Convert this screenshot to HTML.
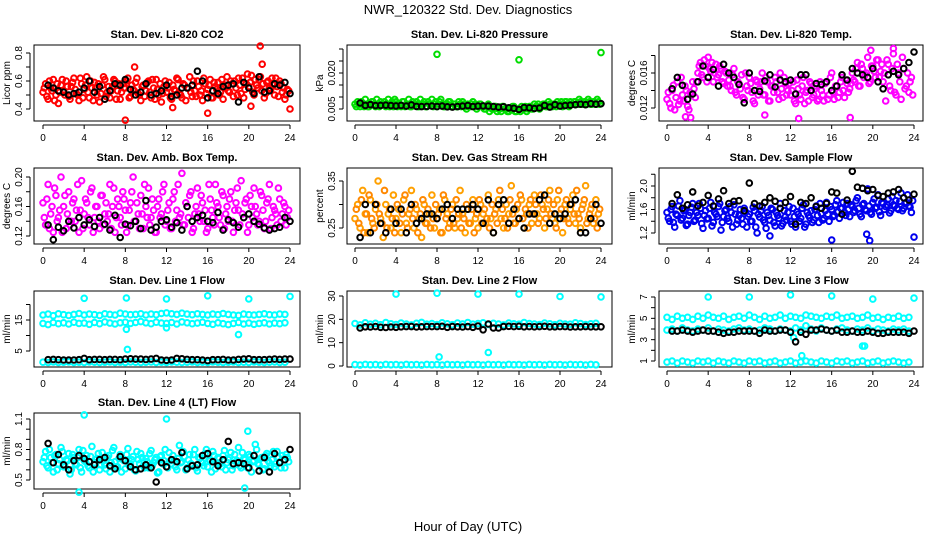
<!DOCTYPE html>
<html><head><meta charset="utf-8"><style>
html,body{margin:0;padding:0;background:#fff;}
svg{display:block;font-family:"Liberation Sans",sans-serif;}
</style></head><body>
<svg id="chart" width="936" height="540" viewBox="0 0 936 540">
<text x="468" y="14" text-anchor="middle" font-size="13">NWR_120322 Std. Dev. Diagnostics</text>
<text x="468" y="531" text-anchor="middle" font-size="13">Hour of Day (UTC)</text>
</svg>
<script>
const hourTicks = [0,4,8,12,16,20,24];
const co2Main = [0.52,0.58,0.47,0.55,0.61,0.50,0.44,0.57,0.53,0.60,0.49,0.56,0.62,0.51,0.46,0.58,0.54,0.63,0.48,0.55,0.59,0.50,0.45,0.57,0.61,0.52,0.48,0.56,0.60,0.53,0.47,0.58,0.55,0.62,0.49,0.54,0.59,0.51,0.46,0.57,0.53,0.60,0.48,0.55,0.61,0.50,0.45,0.56,0.52,0.59,0.47,0.54,0.62,0.51,0.48,0.57,0.55,0.63,0.49,0.53,0.60,0.50,0.46,0.58,0.54,0.61,0.48,0.56,0.59,0.52,0.47,0.57,0.53,0.60,0.49,0.55,0.62,0.51,0.48,0.58,0.56,0.64,0.50,0.57,0.61,0.53,0.48,0.59,0.55,0.62,0.50,0.56,0.60,0.52,0.47,0.54];
const co2Main2 = [0.55,0.49,0.60,0.53,0.46,0.58,0.52,0.61,0.50,0.56,0.47,0.59,0.54,0.50,0.62,0.48,0.57,0.52,0.60,0.46,0.55,0.58,0.51,0.63,0.49,0.56,0.53,0.61,0.47,0.58,0.52,0.55,0.60,0.48,0.57,0.53,0.62,0.50,0.56,0.49,0.59,0.52,0.61,0.47,0.54,0.58,0.51,0.60,0.55,0.48,0.57,0.53,0.61,0.50,0.58,0.46,0.55,0.52,0.60,0.49,0.56,0.53,0.62,0.51,0.57,0.48,0.59,0.54,0.50,0.61,0.55,0.63,0.52,0.58,0.60,0.50,0.57,0.62,0.54,0.65,0.59,0.52,0.61,0.55,0.63,0.58,0.51,0.60,0.54,0.57,0.62,0.49,0.58,0.55,0.50,0.53];
const co2Black = [0.57,0.55,0.53,0.52,0.50,0.51,0.52,0.55,0.60,0.52,0.56,0.47,0.53,0.58,0.57,0.61,0.54,0.50,0.52,0.58,0.50,0.51,0.53,0.57,0.49,0.50,0.55,0.55,0.57,0.67,0.60,0.48,0.53,0.51,0.56,0.57,0.58,0.45,0.59,0.55,0.51,0.63,0.52,0.53,0.58,0.57,0.59,0.51];
const co2OutX = [8,8.9,16,21.1,21.3,24,20.2,12.6];
const co2OutY = [0.32,0.70,0.37,0.85,0.72,0.40,0.42,0.41];

const presMain = [0.007,0.008,0.006,0.007,0.009,0.006,0.007,0.008,0.006,0.007,0.008,0.007,0.006,0.009,0.007,0.006,0.008,0.007,0.006,0.008,0.007,0.009,0.006,0.007,0.008,0.006,0.007,0.008,0.006,0.007,0.009,0.007,0.006,0.008,0.007,0.006,0.007,0.008,0.006,0.007,0.006,0.007,0.008,0.006,0.007,0.006,0.008,0.007,0.006,0.007,0.006,0.005,0.007,0.006,0.005,0.006,0.005,0.004,0.006,0.005,0.004,0.005,0.006,0.004,0.005,0.006,0.005,0.004,0.006,0.005,0.007,0.006,0.005,0.006,0.007,0.006,0.007,0.006,0.007,0.008,0.007,0.006,0.008,0.007,0.008,0.007,0.008,0.007,0.008,0.007,0.008,0.009,0.007,0.008,0.007,0.008];
const presMain2 = [0.006,0.007,0.008,0.006,0.007,0.006,0.008,0.007,0.009,0.006,0.007,0.008,0.007,0.006,0.008,0.009,0.006,0.007,0.008,0.006,0.007,0.006,0.008,0.007,0.006,0.009,0.007,0.006,0.008,0.007,0.006,0.008,0.007,0.009,0.006,0.007,0.008,0.006,0.007,0.006,0.008,0.006,0.007,0.005,0.006,0.007,0.006,0.005,0.007,0.006,0.005,0.006,0.004,0.005,0.006,0.004,0.005,0.006,0.005,0.004,0.005,0.006,0.004,0.005,0.004,0.005,0.006,0.005,0.006,0.005,0.006,0.007,0.006,0.007,0.006,0.008,0.007,0.007,0.006,0.007,0.008,0.007,0.008,0.006,0.007,0.008,0.007,0.009,0.007,0.008,0.007,0.008,0.007,0.008,0.009,0.007];
const presBlack = [0.0075,0.0065,0.0068,0.0064,0.0065,0.0066,0.0064,0.0063,0.0065,0.0062,0.0067,0.0061,0.0060,0.0061,0.0062,0.0060,0.0062,0.0059,0.0058,0.0060,0.0062,0.0064,0.0060,0.0062,0.0063,0.0062,0.0060,0.0058,0.0059,0.0055,0.0053,0.0048,0.0056,0.0055,0.0052,0.0054,0.0065,0.0058,0.0068,0.0062,0.0064,0.0066,0.0068,0.0070,0.0068,0.0072,0.0070,0.0072];
const presOutX = [8,16,24];
const presOutY = [0.0278,0.0255,0.0285];

const tempMain = [0.0130,0.0125,0.0140,0.0118,0.0150,0.0128,0.0135,0.0145,0.0122,0.0138,0.0150,0.0132,0.0160,0.0172,0.0155,0.0168,0.0178,0.0162,0.0150,0.0170,0.0158,0.0165,0.0148,0.0160,0.0152,0.0140,0.0165,0.0135,0.0148,0.0158,0.0130,0.0145,0.0155,0.0138,0.0125,0.0150,0.0142,0.0160,0.0135,0.0150,0.0128,0.0145,0.0155,0.0138,0.0160,0.0132,0.0148,0.0140,0.0135,0.0150,0.0125,0.0142,0.0130,0.0155,0.0138,0.0128,0.0148,0.0135,0.0145,0.0130,0.0140,0.0128,0.0150,0.0135,0.0160,0.0130,0.0145,0.0138,0.0155,0.0132,0.0148,0.0142,0.0160,0.0150,0.0172,0.0145,0.0165,0.0158,0.0178,0.0150,0.0168,0.0155,0.0175,0.0162,0.0150,0.0128,0.0170,0.0140,0.0182,0.0135,0.0160,0.0130,0.0165,0.0145,0.0138,0.0155];
const tempMain2 = [0.0138,0.0120,0.0146,0.0132,0.0124,0.0155,0.0128,0.0140,0.0118,0.0135,0.0142,0.0150,0.0168,0.0158,0.0175,0.0150,0.0165,0.0172,0.0160,0.0155,0.0168,0.0150,0.0162,0.0145,0.0145,0.0158,0.0138,0.0150,0.0142,0.0132,0.0160,0.0140,0.0148,0.0128,0.0152,0.0135,0.0150,0.0135,0.0155,0.0128,0.0145,0.0138,0.0150,0.0130,0.0142,0.0155,0.0135,0.0148,0.0140,0.0128,0.0152,0.0135,0.0145,0.0125,0.0140,0.0150,0.0132,0.0142,0.0128,0.0150,0.0135,0.0148,0.0130,0.0155,0.0138,0.0145,0.0132,0.0150,0.0140,0.0152,0.0138,0.0148,0.0152,0.0165,0.0145,0.0170,0.0155,0.0160,0.0148,0.0168,0.0162,0.0175,0.0155,0.0170,0.0160,0.0175,0.0145,0.0165,0.0138,0.0170,0.0150,0.0178,0.0142,0.0160,0.0150,0.0135];
const tempBlack = [0.0142,0.0155,0.0146,0.0130,0.0136,0.0150,0.0168,0.0155,0.0164,0.0145,0.0170,0.0160,0.0155,0.0147,0.0126,0.0160,0.0140,0.0139,0.0151,0.0158,0.0144,0.0152,0.0150,0.0152,0.0136,0.0158,0.0158,0.0140,0.0148,0.0147,0.0150,0.0140,0.0145,0.0158,0.0152,0.0165,0.0160,0.0158,0.0155,0.0165,0.0150,0.0142,0.0158,0.0162,0.0158,0.0165,0.0172,0.0184];
const tempOutX = [1.8,2.3,9.5,12.8,17.8,19.8,22.0];
const tempOutY = [0.0110,0.0109,0.0112,0.0108,0.0109,0.0186,0.0188];

const ambMain = [0.165,0.135,0.19,0.15,0.125,0.175,0.145,0.20,0.16,0.13,0.18,0.14,0.17,0.155,0.125,0.195,0.15,0.165,0.135,0.185,0.145,0.16,0.13,0.175,0.15,0.14,0.19,0.16,0.125,0.17,0.145,0.18,0.155,0.135,0.165,0.20,0.14,0.15,0.175,0.13,0.16,0.185,0.145,0.155,0.125,0.17,0.15,0.19,0.14,0.165,0.13,0.18,0.155,0.145,0.205,0.135,0.16,0.175,0.125,0.15,0.185,0.14,0.165,0.155,0.13,0.17,0.145,0.19,0.16,0.135,0.175,0.15,0.14,0.18,0.125,0.165,0.155,0.195,0.145,0.17,0.135,0.16,0.185,0.15,0.14,0.175,0.13,0.165,0.19,0.145,0.155,0.135,0.17,0.15,0.16,0.145];
const ambMain2 = [0.145,0.17,0.13,0.16,0.185,0.14,0.155,0.125,0.175,0.15,0.135,0.165,0.14,0.19,0.155,0.13,0.17,0.145,0.18,0.125,0.16,0.14,0.175,0.135,0.165,0.15,0.13,0.185,0.145,0.16,0.135,0.17,0.125,0.155,0.18,0.14,0.165,0.13,0.15,0.19,0.145,0.135,0.17,0.125,0.16,0.145,0.18,0.135,0.155,0.13,0.17,0.14,0.19,0.15,0.135,0.165,0.145,0.18,0.13,0.16,0.15,0.175,0.14,0.125,0.19,0.155,0.135,0.165,0.145,0.18,0.13,0.16,0.17,0.14,0.155,0.185,0.135,0.15,0.165,0.125,0.175,0.145,0.16,0.135,0.18,0.155,0.14,0.17,0.13,0.16,0.15,0.185,0.14,0.165,0.135,0.155];
const ambBlack = [0.135,0.115,0.132,0.127,0.14,0.131,0.145,0.135,0.142,0.133,0.145,0.136,0.128,0.148,0.118,0.136,0.134,0.14,0.130,0.168,0.128,0.132,0.140,0.142,0.132,0.138,0.128,0.16,0.14,0.145,0.148,0.140,0.138,0.152,0.128,0.142,0.138,0.132,0.145,0.150,0.140,0.136,0.131,0.128,0.130,0.132,0.145,0.140];

const rhMain = [0.27,0.30,0.25,0.33,0.28,0.24,0.31,0.26,0.29,0.35,0.27,0.23,0.30,0.28,0.25,0.32,0.27,0.29,0.24,0.31,0.26,0.28,0.33,0.25,0.29,0.27,0.23,0.30,0.26,0.28,0.32,0.25,0.27,0.29,0.24,0.31,0.28,0.26,0.30,0.25,0.27,0.33,0.28,0.24,0.29,0.26,0.31,0.27,0.25,0.30,0.28,0.26,0.32,0.27,0.24,0.29,0.31,0.27,0.25,0.30,0.28,0.34,0.26,0.29,0.27,0.31,0.25,0.28,0.30,0.26,0.32,0.28,0.27,0.30,0.25,0.29,0.33,0.27,0.26,0.31,0.28,0.24,0.30,0.27,0.29,0.32,0.26,0.28,0.25,0.30,0.34,0.27,0.29,0.26,0.31,0.28];
const rhMain2 = [0.29,0.26,0.31,0.24,0.28,0.32,0.27,0.25,0.30,0.28,0.26,0.33,0.25,0.29,0.27,0.24,0.30,0.26,0.28,0.32,0.25,0.29,0.27,0.30,0.24,0.28,0.31,0.26,0.29,0.25,0.27,0.30,0.28,0.24,0.32,0.27,0.25,0.29,0.26,0.31,0.28,0.25,0.27,0.30,0.26,0.29,0.24,0.28,0.31,0.26,0.29,0.27,0.25,0.30,0.28,0.26,0.33,0.29,0.27,0.25,0.31,0.28,0.26,0.30,0.32,0.27,0.29,0.25,0.31,0.28,0.30,0.26,0.32,0.29,0.27,0.31,0.28,0.30,0.25,0.33,0.29,0.27,0.31,0.26,0.30,0.28,0.33,0.27,0.29,0.31,0.26,0.28,0.30,0.27,0.25,0.29];
const rhBlack = [0.23,0.30,0.24,0.30,0.26,0.24,0.29,0.26,0.29,0.24,0.30,0.26,0.27,0.28,0.28,0.27,0.29,0.30,0.27,0.29,0.29,0.29,0.30,0.29,0.26,0.31,0.24,0.30,0.31,0.26,0.29,0.27,0.25,0.28,0.28,0.31,0.32,0.26,0.28,0.27,0.28,0.30,0.31,0.24,0.24,0.27,0.30,0.26];

const flowMain = [1.55,1.40,1.65,1.30,1.50,1.75,1.45,1.60,1.35,1.55,1.70,1.42,1.50,1.62,1.28,1.58,1.45,1.72,1.38,1.52,1.65,1.25,1.48,1.60,1.40,1.55,1.68,1.35,1.50,1.45,1.62,1.30,1.52,1.40,1.58,1.20,1.47,1.65,1.38,1.55,1.42,1.60,1.32,1.50,1.70,1.36,1.48,1.55,1.40,1.62,1.30,1.52,1.45,1.68,1.35,1.50,1.58,1.42,1.66,1.38,1.53,1.45,1.72,1.40,1.60,1.50,1.75,1.45,1.62,1.55,1.70,1.48,1.65,1.58,1.80,1.52,1.68,1.60,1.95,1.55,1.72,1.62,1.85,1.50,1.70,1.65,1.78,1.58,1.68,1.75,1.60,1.88,1.62,1.72,1.66,1.55];
const flowMain2 = [1.45,1.60,1.38,1.52,1.66,1.42,1.58,1.33,1.50,1.64,1.40,1.55,1.70,1.36,1.50,1.44,1.62,1.32,1.55,1.48,1.70,1.38,1.58,1.45,1.65,1.30,1.52,1.42,1.60,1.35,1.56,1.48,1.40,1.64,1.30,1.52,1.58,1.42,1.28,1.50,1.62,1.38,1.55,1.45,1.32,1.58,1.42,1.65,1.35,1.48,1.56,1.40,1.62,1.30,1.55,1.46,1.38,1.60,1.50,1.70,1.42,1.58,1.52,1.65,1.48,1.68,1.56,1.62,1.72,1.50,1.60,1.68,1.55,1.75,1.62,1.48,1.70,1.58,1.66,1.52,1.78,1.64,1.56,1.72,1.60,1.68,1.54,1.82,1.66,1.62,1.74,1.58,1.70,1.85,1.64,1.75];
const flowBlack = [1.70,1.85,1.62,1.68,1.90,1.66,1.72,1.84,1.66,1.78,1.92,1.70,1.74,1.75,1.58,2.05,1.70,1.66,1.72,1.80,1.74,1.62,1.72,1.82,1.35,1.72,1.70,1.80,1.65,1.62,1.70,1.90,1.88,1.52,1.76,2.25,1.98,1.96,1.92,1.94,1.84,1.82,1.88,1.90,1.94,1.80,1.76,1.86];
const flowOutX = [10.0,16.0,19.4,19.7,24.0];
const flowOutY = [1.15,1.08,1.18,1.07,1.13];

const l1Upper = [16.6,16.9,16.4,17.0,16.7,16.5,16.8,17.1,16.6,16.9,16.7,16.5,17.0,16.8,16.6,17.2,16.9,16.7,16.8,17.0,16.6,16.9,16.7,17.1,17.3,17.0,16.8,17.2,16.9,16.7,17.0,16.8,16.6,16.9,16.7,17.1,16.8,16.6,16.5,16.9,16.7,16.6,16.8,17.0,16.7,16.6,16.9,16.8];
const l1Lower = [13.9,13.5,14.2,13.8,14.1,13.7,14.3,13.9,14.0,13.6,14.2,13.8,14.4,14.0,13.7,14.1,14.3,13.9,14.2,14.5,14.1,13.8,14.3,14.0,13.9,14.2,13.7,14.4,14.1,13.8,14.0,14.3,13.9,13.6,14.1,13.8,13.5,13.9,14.2,13.7,14.0,13.6,13.9,14.1,13.7,14.0,13.8,14.1];
const l1Bottom = [1.4,1.3,1.5,1.3,1.4,1.5,1.3,1.4,1.3,1.5,1.4,1.3,1.4,1.5,1.3,1.4,1.3,1.5,1.4,1.3,1.4,1.5,1.3,1.4,1.3,1.5,1.4,1.3,1.4,1.5,1.3,1.4,1.3,1.5,1.4,1.3,1.4,1.5,1.3,1.4,1.3,1.5,1.4,1.3,1.4,1.5,1.3,1.4];
const l1Black = [2.2,2.3,2.2,2.1,2.1,2.1,2.2,2.6,2.2,2.3,2.3,2.2,2.3,2.3,2.2,2.4,2.5,2.4,2.4,2.3,2.4,2.6,2.1,2.0,2.1,2.6,2.5,2.3,2.2,2.2,2.1,1.9,2.2,2.2,2.3,2.1,2.1,2.3,2.4,2.5,2.2,2.2,2.2,2.3,2.4,2.3,2.4,2.4];
const l1OutX = [4,8.1,12,16,20,24,8.2,8.1,12.0,19.0];
const l1OutY = [22.0,22.1,21.8,22.8,21.8,22.6,5.5,12.0,12.5,10.3];

const l2Band = [18.2,17.6,18.5,17.9,18.3,17.7,18.6,18.1,17.8,18.4,18.0,17.6,18.3,18.7,17.9,18.2,17.8,18.5,18.1,17.7,18.4,18.0,18.6,17.9,18.2,18.5,17.8,18.3,18.0,17.6,18.4,18.1,17.9,18.6,18.2,18.0,17.8,18.4,18.1,17.7,18.3,18.0,17.9,18.5,18.2,17.8,18.1,18.3];
const l2Bottom = [0.6,0.4,0.7,0.5,0.6,0.4,0.7,0.5,0.6,0.4,0.7,0.5,0.6,0.4,0.7,0.5,0.6,0.4,0.7,0.5,0.6,0.4,0.7,0.5,0.6,0.4,0.7,0.5,0.6,0.4,0.7,0.5,0.6,0.4,0.7,0.5,0.6,0.4,0.7,0.5,0.6,0.4,0.7,0.5,0.6,0.4,0.7,0.5];
const l2Black = [16.3,16.8,16.7,16.9,16.6,16.5,16.7,16.6,16.8,16.9,16.9,16.7,16.8,16.9,16.9,16.9,17.0,16.6,16.9,16.8,16.7,16.9,16.6,17.1,15.5,18.0,16.3,16.3,16.9,17.0,16.9,17.0,16.8,16.9,16.8,16.9,17.0,16.8,16.8,16.9,16.9,16.7,16.8,16.8,16.9,16.8,16.8,16.8];
const l2OutX = [4,8,12,16,20,24,8.2,13.0];
const l2OutY = [30.8,31.2,30.8,30.8,29.8,29.6,3.9,5.8];

const l3Upper = [5.1,4.9,5.2,5.0,5.1,4.9,5.2,5.0,5.3,5.1,5.0,5.2,4.9,5.1,5.2,5.0,5.3,5.1,4.9,5.2,5.0,5.1,5.3,5.0,5.2,5.1,5.0,5.3,5.2,5.1,5.0,5.2,5.1,5.3,5.0,5.1,5.2,5.0,5.1,5.3,5.0,5.1,4.9,5.1,5.0,5.2,5.0,5.1];
const l3Mid = [3.9,4.0,3.8,4.1,3.9,3.8,4.0,3.9,4.1,3.8,4.0,3.9,3.8,4.0,4.1,3.9,4.0,3.8,3.9,4.1,4.0,3.8,4.0,3.9,3.8,4.1,3.9,4.3,4.0,3.8,4.1,3.9,3.8,4.0,4.1,3.9,3.8,4.0,3.9,4.1,3.8,4.0,3.9,3.8,4.0,3.9,4.0,3.8];
const l3Bottom = [0.9,1.0,0.8,1.0,0.9,0.8,1.0,0.9,1.0,0.8,1.0,0.9,0.8,1.0,0.9,0.8,1.0,0.9,1.0,0.8,0.9,1.0,0.8,0.9,1.0,0.8,0.9,1.0,0.9,0.8,1.0,0.9,0.8,1.0,0.9,1.0,0.8,0.9,1.0,0.8,0.9,1.0,0.8,0.9,1.0,0.9,0.8,0.9];
const l3Black = [3.8,3.8,3.9,3.8,3.7,3.8,3.9,3.8,3.8,3.7,3.6,3.7,3.7,3.8,3.8,3.8,3.8,3.6,3.9,3.8,3.8,3.9,3.9,3.7,2.8,3.7,3.5,3.9,3.9,4.0,3.9,3.8,3.9,3.7,3.7,3.8,3.7,3.7,3.8,3.7,3.6,3.6,3.7,3.7,3.7,3.7,3.6,3.8];
const l3OutX = [4,8,12,16,20,24,12.3,13.1,19.0,19.2];
const l3OutY = [7.0,7.0,7.2,7.1,6.8,6.9,3.2,1.5,2.4,2.4];

const l4Main = [0.68,0.78,0.62,0.72,0.58,0.75,0.66,0.82,0.63,0.70,0.76,0.60,0.72,0.65,0.80,0.58,0.69,0.74,0.62,0.83,0.67,0.71,0.60,0.77,0.65,0.72,0.58,0.79,0.68,0.63,0.75,0.70,0.61,0.81,0.66,0.73,0.59,0.70,0.76,0.64,0.71,0.62,0.79,0.67,0.72,0.58,0.74,0.69,0.63,0.77,0.66,0.70,0.60,0.84,0.68,0.73,0.62,0.75,0.65,0.80,0.59,0.71,0.67,0.76,0.63,0.69,0.78,0.61,0.72,0.66,0.74,0.60,0.70,0.77,0.64,0.68,0.82,0.62,0.71,0.66,0.75,0.58,0.69,0.80,0.65,0.72,0.61,0.76,0.67,0.70,0.63,0.78,0.68,0.74,0.62,0.72];
const l4Main2 = [0.72,0.64,0.80,0.67,0.74,0.60,0.70,0.78,0.63,0.69,0.56,0.75,0.66,0.72,0.62,0.79,0.68,0.64,0.73,0.58,0.70,0.76,0.65,0.69,0.61,0.74,0.67,0.82,0.63,0.71,0.58,0.69,0.75,0.64,0.70,0.60,0.78,0.66,0.72,0.62,0.68,0.76,0.64,0.70,0.57,0.73,0.66,0.80,0.62,0.69,0.74,0.63,0.71,0.67,0.78,0.60,0.70,0.66,0.75,0.62,0.72,0.68,0.64,0.80,0.70,0.58,0.74,0.66,0.71,0.63,0.79,0.67,0.72,0.60,0.75,0.69,0.64,0.77,0.70,0.62,0.73,0.68,0.85,0.66,0.71,0.60,0.74,0.69,0.64,0.78,0.66,0.72,0.62,0.70,0.75,0.68];
const l4Black = [0.86,0.67,0.75,0.65,0.60,0.69,0.74,0.71,0.68,0.65,0.70,0.72,0.64,0.61,0.73,0.69,0.63,0.60,0.61,0.65,0.62,0.48,0.67,0.63,0.70,0.68,0.77,0.61,0.64,0.65,0.74,0.76,0.68,0.64,0.70,0.88,0.66,0.67,0.66,0.62,0.74,0.59,0.72,0.58,0.76,0.67,0.70,0.80];
const l4OutX = [4,12,19.9,3.5,19.6];
const l4OutY = [1.14,1.10,0.98,0.38,0.42];

const NS = 'http://www.w3.org/2000/svg';
const svg = document.getElementById('chart');
const cols = [{l:34,r:300,x0:43,x24:290},{l:347,r:612,x0:355,x24:601},{l:659,r:923,x0:667,x24:914}];
const rowTops = [45,168,291,413];
const H = 76;

function mk(tag, attrs, parent){
  const e = document.createElementNS(NS, tag);
  for (const k in attrs) e.setAttribute(k, attrs[k]);
  (parent||svg).appendChild(e);
  return e;
}
const mainX = i => i*0.25;
const mainX2 = i => i*0.25+0.125;
const blackX = i => 0.5*(i+1);
const bandX = i => i*0.5;

function panel(p){
  const c = cols[p.col], top = rowTops[p.row], bot = top+H;
  const g = mk('g',{});
  
  
  const xs = h => c.x0 + h*(c.x24-c.x0)/24;
  const ys = v => p.p1 + (v-p.v1)*(p.p2-p.p1)/(p.v2-p.v1);
  const t = mk('text',{x:(c.l+c.r)/2,y:top-7,'text-anchor':'middle','font-size':11,'font-weight':'bold'},g);
  t.textContent = p.title;
  
  
  const box = mk('rect',{x:c.l,y:top,width:c.r-c.l,height:H,fill:'none',stroke:'#000','stroke-width':1},g);
  
  
  const xa = mk('g',{},g);
  
  
  mk('line',{x1:xs(0),x2:xs(24),y1:bot+4,y2:bot+4,stroke:'#000'},xa);
  hourTicks.forEach(h=>{
    mk('line',{x1:xs(h),x2:xs(h),y1:bot+4,y2:bot+8,stroke:'#000'},xa);
    const tl = mk('text',{x:xs(h),y:bot+20,'text-anchor':'middle','font-size':10},xa);
    tl.textContent = h;
    
    
  });
  const ya = mk('g',{},g);
  
  
  const ax = c.l-4;
  mk('line',{x1:ax,x2:ax,y1:ys(p.ticks[0]),y2:ys(p.ticks[p.ticks.length-1]),stroke:'#000'},ya);
  p.ticks.forEach(v=>mk('line',{x1:ax-4,x2:ax,y1:ys(v),y2:ys(v),stroke:'#000'},ya));
  p.labels.forEach(v=>{
    const y = ys(v), x = ax-8;
    const tl = mk('text',{x:x,y:y,'text-anchor':'middle','font-size':10,transform:`rotate(-90 ${x} ${y})`},ya);
    tl.textContent = p.fmt ? p.fmt(v) : v;
    
    
  });
  const yl = mk('text',{x:c.l-24,y:top+H/2,'text-anchor':'middle','font-size':10,transform:`rotate(-90 ${c.l-24} ${top+H/2})`},ya);
  yl.textContent = p.ylab;
  
  
  p.series.forEach(s=>{
    const sg = mk('g',{fill:'none',stroke:s.color,'stroke-width':2},g);
    
    
    s.vals.forEach((v,i)=>{
      const cx = s.xv ? s.xv[i] : s.xf(i);
      const pt = mk('circle',{cx:xs(cx).toFixed(1),cy:ys(v).toFixed(1),r:2.8},sg);
      
      
    });
  });
}
const f3 = v => v.toFixed(3);
const BK='#000';
panel({name:'panel-co2',col:0,row:0,title:'Stan. Dev. Li-820 CO2',ylab:'Licor ppm',v1:0.4,p1:109,v2:0.8,p2:53,ticks:[0.4,0.5,0.6,0.7,0.8],labels:[0.4,0.6,0.8],fmt:v=>v.toFixed(1),
 series:[{name:'co2-series',color:'#ff0000',vals:co2Main,xf:mainX},{name:'co2-series-b',color:'#ff0000',vals:co2Main2,xf:mainX2},{name:'co2-outliers',color:'#ff0000',vals:co2OutY,xv:co2OutX},{name:'co2-reference',color:BK,vals:co2Black,xf:blackX}]});
panel({name:'panel-pressure',col:1,row:0,title:'Stan. Dev. Li-820 Pressure',ylab:'kPa',v1:0.005,p1:109,v2:0.020,p2:73,ticks:[0.005,0.010,0.015,0.020,0.025,0.030],labels:[0.005,0.020],fmt:f3,
 series:[{name:'pressure-series',color:'#00dd00',vals:presMain,xf:mainX},{name:'pressure-series-b',color:'#00dd00',vals:presMain2,xf:mainX2},{name:'pressure-outliers',color:'#00dd00',vals:presOutY,xv:presOutX},{name:'pressure-reference',color:BK,vals:presBlack,xf:blackX}]});
panel({name:'panel-li820-temp',col:2,row:0,title:'Stan. Dev. Li-820 Temp.',ylab:'degrees C',v1:0.012,p1:108,v2:0.016,p2:73,ticks:[0.012,0.014,0.016,0.018],labels:[0.012,0.016],fmt:f3,
 series:[{name:'temp-series',color:'#ff00ff',vals:tempMain,xf:mainX},{name:'temp-series-b',color:'#ff00ff',vals:tempMain2,xf:mainX2},{name:'temp-outliers',color:'#ff00ff',vals:tempOutY,xv:tempOutX},{name:'temp-reference',color:BK,vals:tempBlack,xf:blackX}]});
panel({name:'panel-amb-box-temp',col:0,row:1,title:'Stan. Dev. Amb. Box Temp.',ylab:'degrees C',v1:0.12,p1:236,v2:0.20,p2:177,ticks:[0.12,0.14,0.16,0.18,0.20],labels:[0.12,0.16,0.20],fmt:v=>v.toFixed(2),
 series:[{name:'amb-series',color:'#ff00ff',vals:ambMain,xf:mainX},{name:'amb-series-b',color:'#ff00ff',vals:ambMain2,xf:mainX2},{name:'amb-reference',color:BK,vals:ambBlack,xf:blackX}]});
panel({name:'panel-gas-rh',col:1,row:1,title:'Stan. Dev. Gas Stream RH',ylab:'percent',v1:0.25,p1:228,v2:0.35,p2:181,ticks:[0.25,0.30,0.35],labels:[0.25,0.35],fmt:v=>v.toFixed(2),
 series:[{name:'rh-series',color:'#ffa000',vals:rhMain,xf:mainX},{name:'rh-series-b',color:'#ff8800',vals:rhMain2,xf:mainX2},{name:'rh-reference',color:BK,vals:rhBlack,xf:blackX}]});
panel({name:'panel-sample-flow',col:2,row:1,title:'Stan. Dev. Sample Flow',ylab:'ml/min',v1:1.2,p1:233,v2:2.0,p2:186,ticks:[1.2,1.4,1.6,1.8,2.0,2.2],labels:[1.2,1.6,2.0],fmt:v=>v.toFixed(1),
 series:[{name:'flow-series',color:'#0000ee',vals:flowMain,xf:mainX},{name:'flow-series-b',color:'#0000ee',vals:flowMain2,xf:mainX2},{name:'flow-outliers',color:'#0000ee',vals:flowOutY,xv:flowOutX},{name:'flow-reference',color:BK,vals:flowBlack,xf:blackX}]});
const CY='#00ffff';
panel({name:'panel-line1-flow',col:0,row:2,title:'Stan. Dev. Line 1 Flow',ylab:'ml/min',v1:5,p1:351,v2:15,p2:320,ticks:[5,10,15,20],labels:[5,15],
 series:[{name:'line1-upper',color:CY,vals:l1Upper,xf:bandX},{name:'line1-lower',color:CY,vals:l1Lower,xf:bandX},{name:'line1-bottom',color:CY,vals:l1Bottom,xf:bandX},{name:'line1-outliers',color:CY,vals:l1OutY,xv:l1OutX},{name:'line1-reference',color:BK,vals:l1Black,xf:blackX}]});
panel({name:'panel-line2-flow',col:1,row:2,title:'Stan. Dev. Line 2 Flow',ylab:'ml/min',v1:0,p1:366,v2:30,p2:296,ticks:[0,10,20,30],labels:[0,10,20,30],
 series:[{name:'line2-band',color:CY,vals:l2Band,xf:bandX},{name:'line2-bottom',color:CY,vals:l2Bottom,xf:bandX},{name:'line2-outliers',color:CY,vals:l2OutY,xv:l2OutX},{name:'line2-reference',color:BK,vals:l2Black,xf:blackX}]});
panel({name:'panel-line3-flow',col:2,row:2,title:'Stan. Dev. Line 3 Flow',ylab:'ml/min',v1:1,p1:361,v2:7,p2:297,ticks:[1,2,3,4,5,6,7],labels:[1,3,5,7],
 series:[{name:'line3-upper',color:CY,vals:l3Upper,xf:bandX},{name:'line3-mid',color:CY,vals:l3Mid,xf:bandX},{name:'line3-bottom',color:CY,vals:l3Bottom,xf:bandX},{name:'line3-outliers',color:CY,vals:l3OutY,xv:l3OutX},{name:'line3-reference',color:BK,vals:l3Black,xf:blackX}]});
panel({name:'panel-line4-flow',col:0,row:3,title:'Stan. Dev. Line 4 (LT) Flow',ylab:'ml/min',v1:0.5,p1:480,v2:1.1,p2:419,ticks:[0.5,0.6,0.7,0.8,0.9,1.0,1.1],labels:[0.5,0.8,1.1],fmt:v=>v.toFixed(1),
 series:[{name:'line4-series',color:CY,vals:l4Main,xf:mainX},{name:'line4-series-b',color:CY,vals:l4Main2,xf:mainX2},{name:'line4-outliers',color:CY,vals:l4OutY,xv:l4OutX},{name:'line4-reference',color:BK,vals:l4Black,xf:blackX}]});
</script>
</body></html>
